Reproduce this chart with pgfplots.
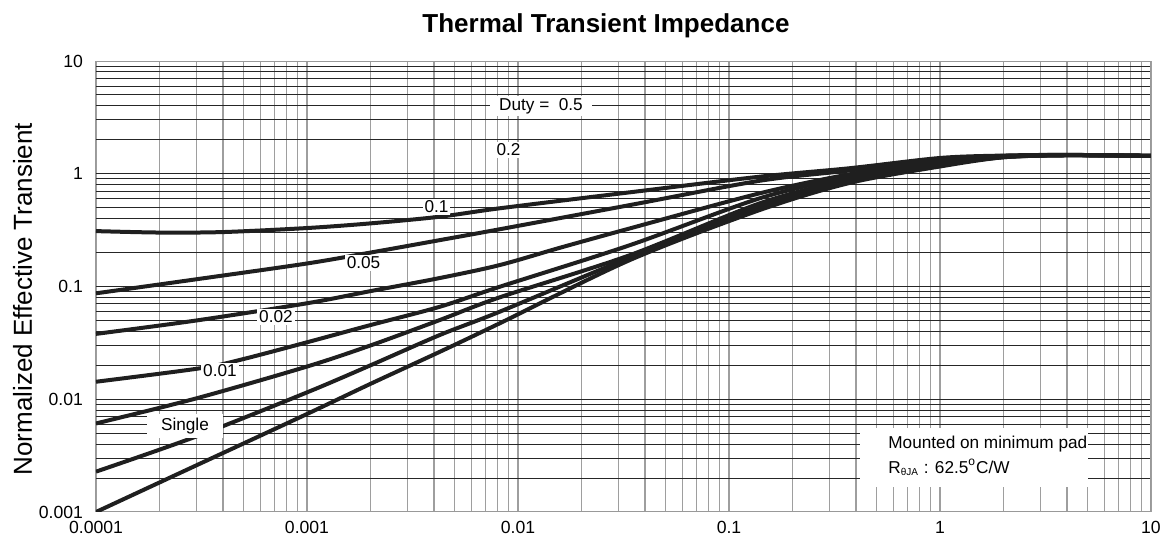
\documentclass[border=0pt]{standalone}
\usepackage{fontspec}
\setmainfont{Liberation Sans}
\usepackage{pgfplots}
\pgfplotsset{compat=1.18}
\tikzset{lbl/.style={fill=white, inner sep=1pt, font=\fontsize{8.6}{10}\selectfont, anchor=center},
 curve/.style={draw=black!88, line width=2pt, mark=none, smooth}}
\begin{document}
\begin{tikzpicture}
\path[use as bounding box] (-48pt,-16.5pt) rectangle (536pt,256pt);
\begin{axis}[at={(0,0)}, anchor=south west, scale only axis, width=527.5pt, height=225.5pt,
 xmode=log, ymode=log, xmin=1e-4, xmax=10, ymin=1e-3, ymax=10,
 xtick={1e-4,1e-3,1e-2,1e-1,1,10}, xticklabels={0.0001,0.001,0.01,0.1,1,10},
 ytick={1e-3,1e-2,1e-1,1,10}, yticklabels={0.001,0.01,0.1,1,10},
 grid=both,
 major x grid style={draw=black!38, line width=0.55pt},
 minor x grid style={draw=black!38, line width=0.55pt},
 major y grid style={draw=black!85, line width=0.5pt},
 minor y grid style={draw=black!85, line width=0.5pt},
 major tick length=0pt, minor tick length=0pt,
 axis line style={draw=black!40, line width=0.5pt},
 tick label style={font=\fontsize{8.8}{10}\selectfont},
 xticklabel style={yshift=-1.3pt},
 yticklabel style={xshift=-3pt},
 title={Thermal Transient Impedance},
 every axis title shift=0pt,
 title style={font=\fontsize{13}{15}\selectfont\bfseries, at={(axis description cs:0.4834,1)}, anchor=base, yshift=14.5pt},
 ylabel={Normalized Effective Transient},
 ylabel style={font=\fontsize{13}{15}\selectfont, at={(axis description cs:-0.0607,0.472)}, anchor=base},
]
% D = 0.5
\addplot[curve] coordinates {(1e-4,0.31) (2e-4,0.301) (4e-4,0.304) (1e-3,0.33) (2e-3,0.363) (4.27e-3,0.416) (8.2e-3,0.494) (0.034,0.685) (0.14,0.942) (0.374,1.12) (1,1.38) (2,1.45) (4,1.47) (10,1.44)};
% D = 0.2
\addplot[curve] coordinates {(1e-4,0.087) (3e-4,0.116) (1e-3,0.16) (2e-3,0.200) (4.27e-3,0.258) (8.2e-3,0.322) (0.034,0.528) (0.14,0.867) (0.374,1.07) (1,1.35) (2,1.44) (4,1.47) (10,1.44)};
% D = 0.1
\addplot[curve] coordinates {(1e-4,0.038) (3e-4,0.050) (1e-3,0.071) (2e-3,0.091) (4.27e-3,0.119) (8.2e-3,0.155) (0.016,0.222) (0.034,0.328) (0.14,0.671) (0.374,0.99) (1,1.31) (2,1.43) (4,1.465) (10,1.44)};
% D = 0.05
\addplot[curve] coordinates {(1e-4,0.0143) (3.1e-4,0.0188) (4.8e-4,0.0223) (1e-3,0.032) (2e-3,0.0455) (4.27e-3,0.0662) (8.2e-3,0.0995) (0.034,0.233) (0.14,0.606) (0.374,0.94) (1,1.27) (2,1.42) (4,1.46) (10,1.44)};
% D = 0.02
\addplot[curve] coordinates {(1e-4,0.0061) (3e-4,0.0102) (1e-3,0.0195) (2e-3,0.030) (4.27e-3,0.0505) (8.2e-3,0.0802) (0.034,0.19) (0.14,0.547) (0.374,0.89) (1,1.23) (2,1.41) (4,1.46) (10,1.44)};
% D = 0.01
\addplot[curve] coordinates {(1e-4,0.00228) (3e-4,0.00469) (1e-3,0.0115) (2e-3,0.020) (4.27e-3,0.0372) (8.2e-3,0.0598) (0.034,0.181) (0.14,0.51) (0.374,0.86) (1,1.19) (2,1.40) (4,1.46) (10,1.44)};
% Single
\addplot[curve] coordinates {(1e-4,0.001) (3e-4,0.0026) (1e-3,0.0074) (2e-3,0.0137) (4.27e-3,0.0264) (8.2e-3,0.0472) (0.034,0.172) (0.14,0.477) (0.374,0.83) (1,1.16) (2,1.40) (4,1.46) (10,1.44)};

\node[lbl, inner xsep=4.5pt] at (axis cs:0.01285,3.99) {Duty =\ \ 0.5};
\node[lbl] at (axis cs:9.02e-3,1.624) {0.2};
\node[lbl] at (axis cs:4.11e-3,0.507) {0.1};
\node[lbl] at (axis cs:1.853e-3,0.1616) {0.05};
\node[lbl] at (axis cs:7.13e-4,0.0536) {0.02};
\node[lbl] at (axis cs:3.87e-4,0.0178) {0.01};
\node[lbl, inner xsep=7pt, inner ysep=2pt] at (axis cs:2.64e-4,0.00579) {Single};
\node[fill=white, minimum width=114pt, minimum height=29.5pt, inner sep=0pt] at (axis cs:1.45,3.04e-3) {};
\node[anchor=west, align=left, inner sep=0pt, font=\fontsize{8.6}{12.5}\selectfont] at (axis cs:0.567,3.17e-3) {Mounted on minimum pad\\R\textsubscript{\fontsize{5}{5}\selectfont θJA} : 62.5\textsuperscript{o}C/W};
\end{axis}
\end{tikzpicture}
\end{document}
